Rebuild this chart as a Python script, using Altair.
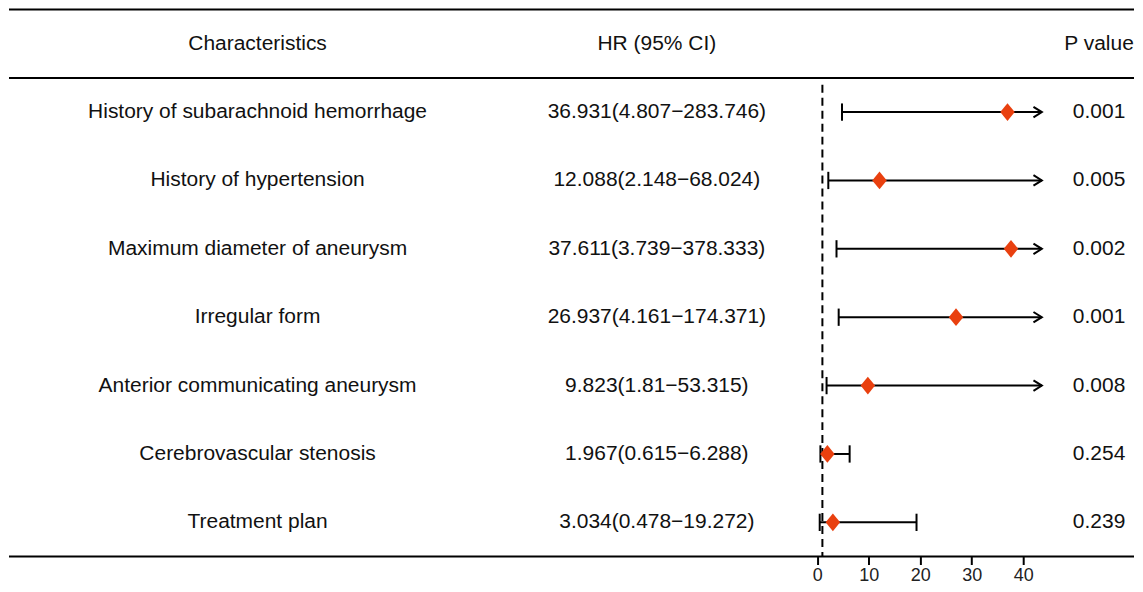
import altair as alt
import pandas as pd

# ---- data ----
characteristics = [
    "History of subarachnoid hemorrhage",
    "History of hypertension",
    "Maximum diameter of aneurysm",
    "Irregular form",
    "Anterior communicating aneurysm",
    "Cerebrovascular stenosis",
    "Treatment plan",
]
hr = [36.931, 12.088, 37.611, 26.937, 9.823, 1.967, 3.034]
ci_low = [4.807, 2.148, 3.739, 4.161, 1.81, 0.615, 0.478]
ci_high = [283.746, 68.024, 378.333, 174.371, 53.315, 6.288, 19.272]
p_values = ["0.001", "0.005", "0.002", "0.001", "0.008", "0.254", "0.239"]
headers = ["Characteristics", "HR (95% CI)", "P value"]
x_ticks = [0, 10, 20, 30, 40]
ref_line = 1
clip_max = 43.6

# ---- layout constants ----
W, H = 1127, 548
FONT = "Liberation Sans"
FS = 21
RED = "#E9400F"
COL_X = [249, 649, 1092]

rows = list(range(1, len(characteristics) + 1))
df = pd.DataFrame({
    "row": rows,
    "char": characteristics,
    "hr": hr,
    "lo": ci_low,
    "hi": ci_high,
    "p": p_values,
})
df["label"] = [f"{h}({l}\u2212{u})" for h, l, u in zip(hr, ci_low, ci_high)]
df["hi_clip"] = [min(u, clip_max) for u in ci_high]
df["arrow"] = [u > clip_max for u in ci_high]

xs = alt.Scale(domain=[-156.9, 61.49], nice=False, zero=False)
ys = alt.Scale(domain=[-0.5, 7.5], reverse=True, nice=False, zero=False)
xaxis = alt.Axis(values=x_ticks, domain=False, grid=False, tickSize=8, tickWidth=2,
                 tickColor="black", labelFontSize=18, labelFont=FONT,
                 labelColor="#222222", labelPadding=2, title=None)


def X(field):
    return alt.X(field, type="quantitative", scale=xs, axis=xaxis)


def Y(field):
    return alt.Y(field, type="quantitative", scale=ys, axis=None)


base = alt.Chart(df)

# horizontal table rules
rules_df = pd.DataFrame({"y": [-0.5, 0.5, 7.5]})
hrules = alt.Chart(rules_df).mark_rule(color="black", strokeWidth=2).encode(
    y=Y("y"), x=alt.value(0), x2=alt.value(W)
)

# dashed reference line
ref_df = pd.DataFrame({"x": [ref_line], "y0": [0.6], "y1": [7.5]})
ref = alt.Chart(ref_df).mark_rule(color="black", strokeWidth=2, strokeDash=[8, 5]).encode(
    x=X("x"), y=Y("y0"), y2="y1"
)

ci_line = base.mark_rule(color="black", strokeWidth=2).encode(
    x=X("lo"), x2="hi_clip", y=Y("row")
)

cap_path = "M 0 -1 L 0 1"
low_cap = base.mark_point(shape=cap_path, size=300, filled=False, color="black",
                          strokeWidth=2, opacity=1).encode(x=X("lo"), y=Y("row"))
high_cap = base.transform_filter("!datum.arrow").mark_point(
    shape=cap_path, size=300, filled=False, color="black", strokeWidth=2, opacity=1
).encode(x=X("hi"), y=Y("row"))

arrow = base.transform_filter("datum.arrow").mark_point(
    shape="M -1.6 -1 L 0 0 L -1.6 1", size=110, filled=False, color="black",
    strokeWidth=2, opacity=1
).encode(x=X("hi_clip"), y=Y("row"))

diamond = base.mark_point(
    shape="M 0 -1.1 L 0.9 0 L 0 1.1 L -0.9 0 Z", size=260, filled=True,
    color=RED, opacity=1, strokeWidth=0
).encode(x=X("hr"), y=Y("row"))

txt_kw = dict(font=FONT, fontSize=FS, color="#111111", align="center", baseline="middle")
char_txt = base.mark_text(**txt_kw).encode(text="char:N", y=Y("row"), x=alt.value(COL_X[0]))
hr_txt = base.mark_text(**txt_kw).encode(text="label:N", y=Y("row"), x=alt.value(COL_X[1]))
p_txt = base.mark_text(**txt_kw).encode(text="p:N", y=Y("row"), x=alt.value(COL_X[2]))

head_df = pd.DataFrame({"h": headers, "row": [0, 0, 0], "i": [0, 1, 2]})
head_layers = [
    alt.Chart(head_df).transform_filter(f"datum.i == {i}").mark_text(**txt_kw).encode(
        text="h:N", y=Y("row"), x=alt.value(COL_X[i])
    )
    for i in range(3)
]

chart = alt.layer(
    hrules, ref, ci_line, low_cap, high_cap, arrow, diamond,
    char_txt, hr_txt, p_txt, *head_layers
).properties(width=W, height=H, padding=0).configure_view(stroke=None).configure_axisX(
    labelFontSize=18, labelFont=FONT, labelColor="#222222", tickSize=8, tickWidth=2,
    tickColor="black", domain=False, grid=False, labelPadding=2
)

chart.save("out.html", embed_options={"renderer": "svg", "actions": False})
